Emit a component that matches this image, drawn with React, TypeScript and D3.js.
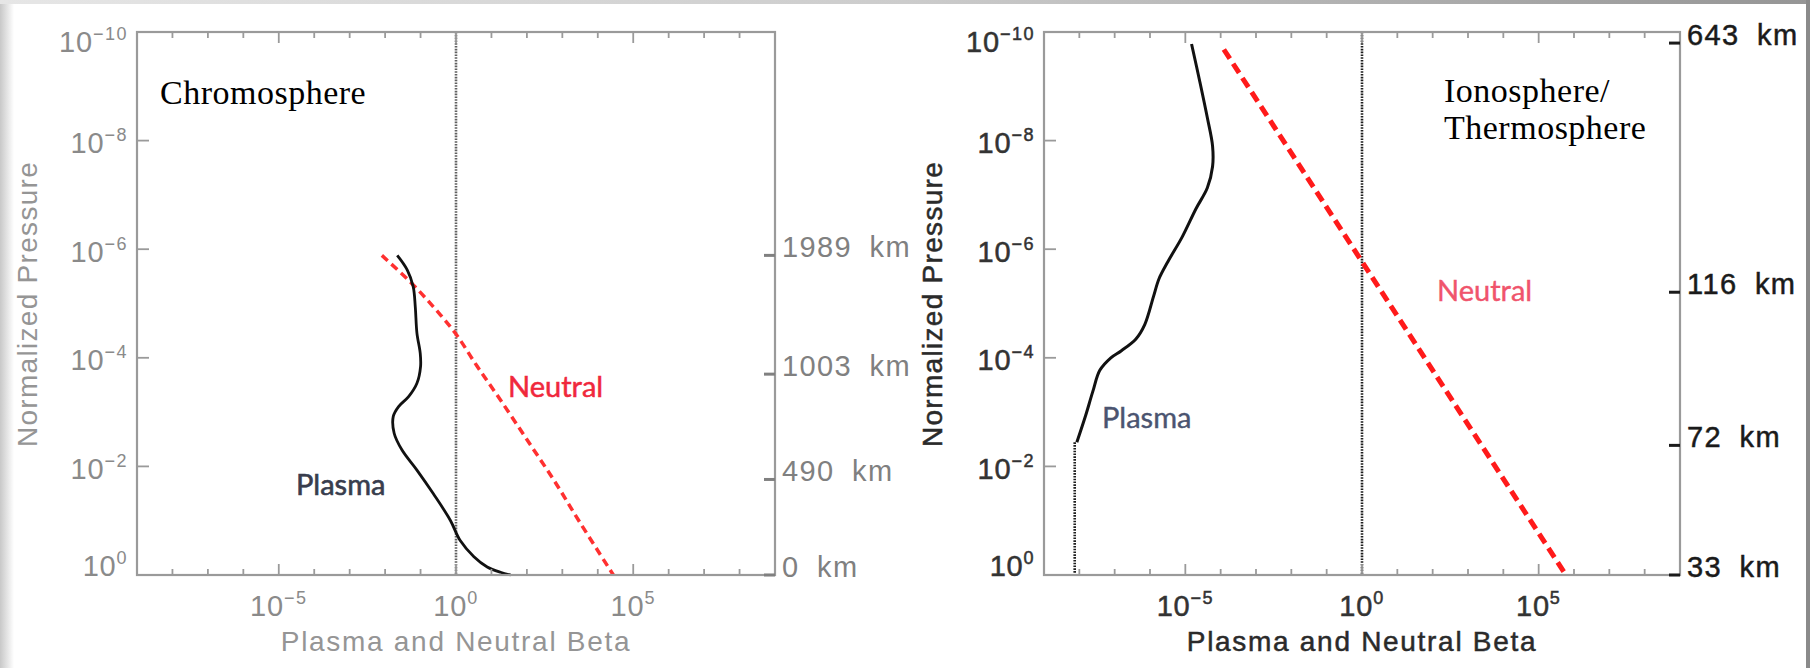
import React from 'react';
import * as d3 from 'd3';

const W = 1810;
const H = 668;

// ---------- axis data ----------
const betaDomain: [number, number] = [1e-9, 1e9];
const pressureDomain: [number, number] = [1e-10, 1];
const xMinorExps = [-8, -7, -6, -5, -4, -3, -2, -1, 0, 1, 2, 3, 4, 5, 6, 7, 8];
const xLabelExps = [-5, 0, 5];
const yLabelExps = [-10, -8, -6, -4, -2, 0];
const xTitle = 'Plasma and Neutral Beta';
const yTitle = 'Normalized Pressure';

// ---------- right (height) axes ----------
const chromoKmLabels = ['1989 km', '1003 km', '490 km', '0 km'];
const chromoKmPressure = [1.3e-6, 2.0e-4, 1.74e-2, 1];
const ionoKmLabels = ['643 km', '116 km', '72 km', '33 km'];
const ionoKmPressure = [1.6e-10, 6.2e-6, 4.1e-3, 1];

// ---------- chromosphere series ----------
const chromoPlasmaP = [1.3e-6, 2.4e-6, 4.9e-6, 1.15e-5, 3.5e-5, 8.3e-5, 1.45e-4, 2.95e-4, 5.2e-4, 7.9e-4, 1.2e-3, 2.45e-3, 5.0e-3, 1.17e-2, 3.2e-2, 9.8e-2, 2.3e-1, 4.6e-1, 7.1e-1, 8.9e-1, 1.0];
const chromoPlasmaBeta = [2.2e-2, 4.2e-2, 6.2e-2, 7.1e-2, 7.9e-2, 9.8e-2, 1.0e-1, 7.9e-2, 4.6e-2, 2.4e-2, 1.7e-2, 1.8e-2, 3.0e-2, 7.9e-2, 2.3e-1, 6.9e-1, 1.3, 3.2, 7.6, 18, 35];
const chromoNeutralP = [1.3e-6, 4.0e-6, 1.15e-5, 3.5e-5, 1.45e-4, 6.0e-4, 3.2e-3, 1.8e-2, 1.1e-1, 1.0];
const chromoNeutralBeta = [8.1e-3, 5.1e-2, 2.3e-1, 9.5e-1, 4.0, 18, 1.0e2, 5.8e2, 3.2e3, 2.75e4];

// ---------- ionosphere / thermosphere series ----------
const ionoPlasmaP = [1.66e-10, 8.5e-10, 3.8e-9, 1.26e-8, 3.0e-8, 7.4e-8, 1.8e-7, 6.0e-7, 1.7e-6, 3.5e-6, 7.4e-6, 2.45e-5, 4.5e-5, 7.4e-5, 1.0e-4, 1.7e-4, 4.2e-4, 1.17e-3, 3.6e-3];
const ionoPlasmaBeta = [1.5e-5, 2.6e-5, 4.2e-5, 5.9e-5, 5.9e-5, 4.2e-5, 2.0e-5, 8.1e-6, 3.2e-6, 1.8e-6, 1.26e-6, 7.1e-7, 4.0e-7, 1.55e-7, 7.8e-8, 3.8e-8, 2.4e-8, 1.5e-8, 8.5e-9];
const ionoPlasmaFloorP = [3.6e-3, 1.0];
const ionoPlasmaFloorBeta = [7.4e-9, 7.4e-9];
const ionoNeutralP = [2.1e-10, 1.7e-6, 1.0];
const ionoNeutralBeta = [1.23e-4, 1.0, 5.9e5];

const TOP = 32;
const BOTTOM = 575;

type Pt = [number, number];
const zip = (b: number[], p: number[]): Pt[] => b.map((v, i) => [v, p[i]]);

const supText = (e: number) => (e < 0 ? '\u2212' + Math.abs(e) : String(e));

interface PanelProps {
  x0: number;
  x1: number;
  labelColor: string;
  frameColor: string;
  titleColor: string;
  kmColor: string;
  refColor: string;
  textStroke: number;
  kmLabels: string[];
  kmPressure: number[];
  children: (xs: d3.ScaleLogarithmic<number, number>, ys: d3.ScaleLogarithmic<number, number>) => React.ReactNode;
  yTitleX: number;
}

function Panel(props: PanelProps) {
  const { x0, x1, labelColor, frameColor, titleColor, kmColor, refColor, kmLabels, kmPressure, yTitleX, textStroke } = props;
  const xs = d3.scaleLog().domain(betaDomain).range([x0, x1]);
  const ys = d3.scaleLog().domain(pressureDomain).range([TOP, BOTTOM]);
  const sans = '"Liberation Sans", Arial, sans-serif';
  return (
    <g>
      {/* vertical reference line at beta = 1 */}
      <line x1={xs(1)} x2={xs(1)} y1={TOP} y2={BOTTOM} stroke={refColor} strokeWidth={2.6} strokeDasharray="1.6 1.2" />
      {props.children(xs, ys)}
      {/* frame */}
      <rect x={x0} y={TOP} width={x1 - x0} height={BOTTOM - TOP} fill="none" stroke={frameColor} strokeWidth={2.2} />
      {/* x ticks */}
      {xMinorExps.map((e) => {
        const x = xs(Math.pow(10, e));
        const len = e % 5 === 0 ? 11 : 6;
        return (
          <g key={'xt' + e}>
            <line x1={x} x2={x} y1={BOTTOM} y2={BOTTOM - len} stroke={frameColor} strokeWidth={1.8} />
            <line x1={x} x2={x} y1={TOP} y2={TOP + len} stroke={frameColor} strokeWidth={1.8} />
          </g>
        );
      })}
      {/* y ticks */}
      {yLabelExps.slice(1, -1).map((e) => {
        const y = ys(Math.pow(10, e));
        return <line key={'yt' + e} x1={x0} x2={x0 + 12} y1={y} y2={y} stroke={frameColor} strokeWidth={1.8} />;
      })}
      {/* x labels */}
      {xLabelExps.map((e) => (
        <text key={'xl' + e} x={xs(Math.pow(10, e))} y={616} textAnchor="middle" fontFamily={sans} fontSize={29} letterSpacing={0.8} fill={labelColor} stroke={labelColor} strokeWidth={textStroke}>
          10<tspan fontSize={18} dy={-12} letterSpacing={1.5}>{supText(e)}</tspan>
        </text>
      ))}
      {/* y labels */}
      {yLabelExps.map((e, i) => {
        const y = ys(Math.pow(10, e));
        const off = i === 0 ? 20 : i === yLabelExps.length - 1 ? 1 : 12.5;
        return (
          <text key={'yl' + e} x={x0 - 9} y={y + off} textAnchor="end" fontFamily={sans} fontSize={29} letterSpacing={0.8} fill={labelColor} stroke={labelColor} strokeWidth={textStroke}>
            10<tspan fontSize={18} dy={-12} letterSpacing={1.5}>{supText(e)}</tspan>
          </text>
        );
      })}
      {/* km axis */}
      {kmLabels.map((lab, i) => {
        const y = ys(kmPressure[i]);
        return (
          <g key={'km' + i}>
            <line x1={x1 - 11} x2={x1} y1={y} y2={y} stroke={kmColor} strokeWidth={3} />
            <text x={x1 + 7} y={y + 2} fontFamily={sans} fontSize={29} fill={kmColor} stroke={kmColor} strokeWidth={textStroke} wordSpacing={8} letterSpacing={1.4}>
              {lab}
            </text>
          </g>
        );
      })}
      {/* titles */}
      <text x={(x0 + x1) / 2} y={651} textAnchor="middle" fontFamily={sans} fontSize={28} letterSpacing={1.7} fill={titleColor} stroke={titleColor} strokeWidth={textStroke}>
        {xTitle}
      </text>
      <text transform={`translate(${yTitleX},304) rotate(-90)`} textAnchor="middle" fontFamily={sans} fontSize={28} letterSpacing={1.3} fill={titleColor} stroke={titleColor} strokeWidth={textStroke}>
        {yTitle}
      </text>
    </g>
  );
}

export default function App() {
  const smooth = (xs: d3.ScaleLogarithmic<number, number>, ys: d3.ScaleLogarithmic<number, number>) =>
    d3
      .line<Pt>()
      .x((d) => xs(d[0]))
      .y((d) => ys(d[1]))
      .curve(d3.curveCatmullRom.alpha(0.5));
  const straight = (xs: d3.ScaleLogarithmic<number, number>, ys: d3.ScaleLogarithmic<number, number>) =>
    d3
      .line<Pt>()
      .x((d) => xs(d[0]))
      .y((d) => ys(d[1]));

  return (
    <svg width={W} height={H} style={{ position: 'absolute', left: 0, top: 0, background: '#fff' }}>
      <defs>
        <linearGradient id="topband" x1="0" x2="1" y1="0" y2="0">
          <stop offset="0" stopColor="#e6e6e6" />
          <stop offset="0.5" stopColor="#cccccc" />
          <stop offset="1" stopColor="#959595" />
        </linearGradient>
        <linearGradient id="leftband" x1="0" x2="1" y1="0" y2="0">
          <stop offset="0" stopColor="#c8c8c8" />
          <stop offset="1" stopColor="#ffffff" />
        </linearGradient>
      </defs>
      <rect x={0} y={0} width={W} height={H} fill="#fff" />
      <rect x={0} y={0} width={14} height={H} fill="url(#leftband)" />
      <rect x={0} y={0} width={W} height={4} fill="url(#topband)" />
      <rect x={1806} y={0} width={4} height={H} fill="#8a8a8a" />

      {/* Left: Chromosphere */}
      <Panel
        x0={137}
        x1={775}
        labelColor="#8a8a8a"
        frameColor="#9a9a9a"
        titleColor="#959595"
        kmColor="#808080"
        refColor="#606060"
        textStroke={0}
        kmLabels={chromoKmLabels}
        kmPressure={chromoKmPressure}
        yTitleX={37}
      >
        {(xs, ys) => (
          <g>
            <path d={smooth(xs, ys)(zip(chromoNeutralBeta, chromoNeutralP)) || ''} fill="none" stroke="#ff3030" strokeWidth={3.5} strokeDasharray="8 5" />
            <path d={smooth(xs, ys)(zip(chromoPlasmaBeta, chromoPlasmaP)) || ''} fill="none" stroke="#111" strokeWidth={2.8} />
          </g>
        )}
      </Panel>

      {/* Right: Ionosphere / Thermosphere */}
      <Panel
        x0={1044}
        x1={1680}
        labelColor="#333"
        frameColor="#9a9a9a"
        titleColor="#2a2a2a"
        kmColor="#1a1a1a"
        refColor="#1e1e1e"
        textStroke={0.5}
        kmLabels={ionoKmLabels}
        kmPressure={ionoKmPressure}
        yTitleX={942}
      >
        {(xs, ys) => (
          <g>
            <path d={straight(xs, ys)(zip(ionoPlasmaFloorBeta, ionoPlasmaFloorP)) || ''} fill="none" stroke="#1e1e1e" strokeWidth={2.6} strokeDasharray="1.6 1.2" />
            <path d={straight(xs, ys)(zip(ionoNeutralBeta, ionoNeutralP)) || ''} fill="none" stroke="#ff1a1a" strokeWidth={5} strokeDasharray="11 6" />
            <path d={smooth(xs, ys)(zip(ionoPlasmaBeta, ionoPlasmaP)) || ''} fill="none" stroke="#111" strokeWidth={3} />
          </g>
        )}
      </Panel>

      {/* annotations */}
      <text x={160} y={104} fontFamily='"Liberation Serif", serif' fontSize={34} letterSpacing={0.5} fill="#000">Chromosphere</text>
      <text x={1444} y={102} fontFamily='"Liberation Serif", serif' fontSize={34} letterSpacing={0.5} fill="#000">Ionosphere/</text>
      <text x={1444} y={139} fontFamily='"Liberation Serif", serif' fontSize={34} letterSpacing={0.5} fill="#000">Thermosphere</text>

      <text x={296} y={495} fontFamily="Lato, sans-serif" fontSize={29} fill="#383d4d" stroke="#383d4d" strokeWidth={0.6}>Plasma</text>
      <text x={508} y={397} fontFamily="Lato, sans-serif" fontSize={29} fill="#f0283c" stroke="#f0283c" strokeWidth={0.5}>Neutral</text>
      <text x={1102} y={428} fontFamily="Lato, sans-serif" fontSize={29} fill="#4b5470" stroke="#4b5470" strokeWidth={0.4}>Plasma</text>
      <text x={1437} y={301} fontFamily="Lato, sans-serif" fontSize={29} fill="#f0546c" stroke="#f0546c" strokeWidth={0.4}>Neutral</text>
    </svg>
  );
}
